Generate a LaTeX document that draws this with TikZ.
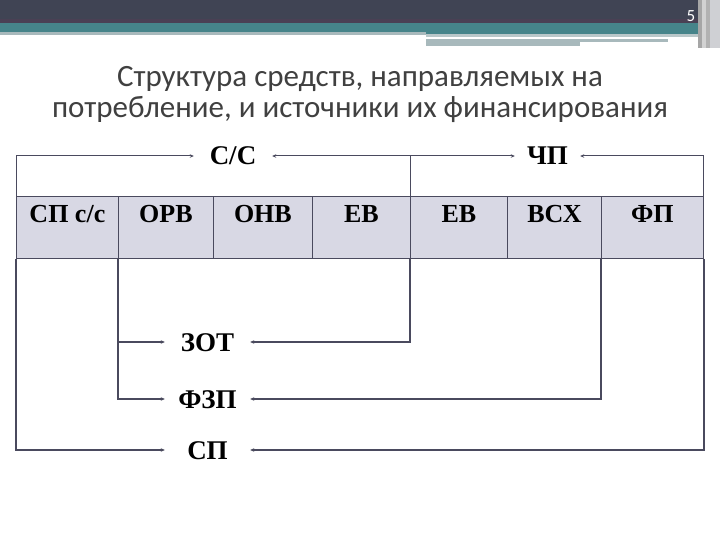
\documentclass[tikz,border=0pt]{standalone}
\usepackage{fontspec}
\setmainfont{Liberation Serif}
\newfontfamily\titlefont{Carlito}
\usetikzlibrary{arrows.meta,positioning}
\definecolor{slidedark}{RGB}{64,68,84}
\definecolor{slideplum}{RGB}{74,64,84}
\definecolor{slideteal}{RGB}{70,132,138}
\definecolor{slidegray}{RGB}{168,185,188}
\definecolor{cellfill}{RGB}{216,216,228}
\definecolor{linkgray}{RGB}{74,74,94}
\definecolor{titlegray}{RGB}{64,64,64}

\begin{document}
\begin{tikzpicture}[x=1pt,y=-1pt,
    cell/.style={draw=linkgray, line width=0.8pt, fill=cellfill, anchor=north west,
      minimum height=62pt, inner sep=0pt, text height=26pt, text depth=36pt,
      font=\fontsize{26}{26}\selectfont\bfseries},
    lbl/.style={inner sep=0pt, text height=18pt, text depth=0pt,
      font=\fontsize{27}{27}\selectfont\bfseries},
    link/.style={draw=linkgray, line width=1pt, -{Stealth[length=4pt,width=3.5pt]}},
    linkbot/.style={link, line width=1.6pt}]
				% Slide frame
				\fill[white] (0,0) rectangle (720,540);
				\fill[slidedark] (0,0) rectangle (720,23);
				\fill[slideplum] (0,19) rectangle (720,23);
				\fill[slideteal] (0,23) rectangle (720,32);
				\fill[slidegray] (0,32) rectangle (426,35);
				\fill[slideteal] (426,32) rectangle (698,34);
				\fill[slidegray!80] (426,34) rectangle (698,37);
				\fill[slidegray] (426,39) rectangle (668,42);
				\fill[slidegray] (426,42) rectangle (580,46);
				\fill[gray!70] (698,0) rectangle (702,48);
				\fill[gray!35] (702,0) rectangle (706,48);
				\fill[gray!60] (706,0) rectangle (710,48);
				\fill[slidedark!25] (710,0) rectangle (720,48);
				\node[text=white, font=\titlefont\fontsize{17}{17}\selectfont] (num) at (691,16) {5};
				
				% Title
				\node[text=titlegray, align=center, font=\titlefont\fontsize{31}{31}\selectfont, anchor=base] (title) at (360,118)
				{Структура средств, направляемых на\\потребление, и источники их финансирования};
				
				% Table row
				\node[cell, minimum width=102pt] (spcc) at (16,196) {СП с/с};
				\node[cell, minimum width=95pt] (orv) at (118,196) {ОРВ};
				\node[cell, minimum width=99pt] (onv) at (213,196) {ОНВ};
				\node[cell, minimum width=98pt] (ev1) at (312,196) {ЕВ};
				\node[cell, minimum width=97pt] (ev2) at (410,196) {ЕВ};
				\node[cell, minimum width=94pt] (vsx) at (507,196) {ВСХ};
				\node[cell, minimum width=102pt] (fp) at (601,196) {ФП};
				
				% Sources and uses
				\node[lbl, minimum width=78pt] (cc) at (233,156) {С/С};
				\node[lbl, minimum width=65pt] (chp) at (547.5,156) {ЧП};
				\node[lbl, minimum width=85pt] (zot) at (207.5,342) {ЗОТ};
				\node[lbl, minimum width=85pt] (fzp) at (207.5,399) {ФЗП};
				\node[lbl, minimum width=85pt] (sp) at (207.5,450) {СП};
				
				% Upper connectors
				\draw[link] (spcc.north west) |- (cc.west);
				\draw[link] (ev2.north west) |- (cc.east);
				\draw[link] (ev2.north west) |- (chp.west);
				\draw[link] (fp.north east) |- (chp.east);
				
				% Lower connectors
				\draw[linkbot] (orv.south west) |- (zot.west);
				\draw[linkbot] (ev2.south west) |- (zot.east);
				\draw[linkbot] (orv.south west) |- (fzp.west);
				\draw[linkbot] (fp.south west) |- (fzp.east);
				\draw[linkbot] (spcc.south west) |- (sp.west);
				\draw[linkbot] (fp.south east) |- (sp.east);
\end{tikzpicture}
\end{document}
